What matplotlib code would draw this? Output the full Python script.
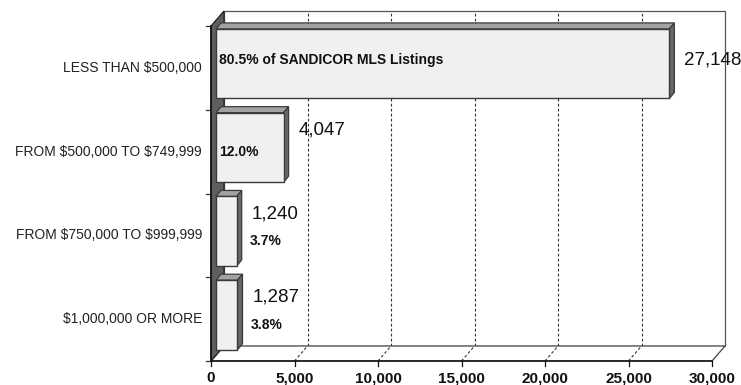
import matplotlib
matplotlib.use("Agg")
import matplotlib.pyplot as plt
from matplotlib.patches import Polygon
from matplotlib.transforms import offset_copy

# ---- data ----
categories = ["LESS THAN $500,000", "FROM $500,000 TO $749,999",
              "FROM $750,000 TO $999,999", "$1,000,000 OR MORE"]
counts = [27148, 4047, 1240, 1287]
shares = ["80.5%", "12.0%", "3.7%", "3.8%"]
first_suffix = " of SANDICOR MLS Listings"
xticks = [0, 5000, 10000, 15000, 20000, 25000, 30000]
xticklabels = ["0", "5,000", "10,000", "15,000", "20,000", "25,000", "30,000"]
XMAX = 30000

FONT = "Liberation Sans"
W, H = 741, 385
fig = plt.figure(figsize=(W / 100, H / 100), dpi=100)
L, R, T, B = 211, 712, 26, 361
ax = fig.add_axes([L / W, (H - B) / H, (R - L) / W, (B - T) / H])
ax.set_xlim(0, XMAX)
n = len(categories)
ax.set_ylim(0, n)
ax.axis("off")

PX = XMAX / (R - L)      # data units per pixel (x)
PY = n / (B - T)         # data units per pixel (y)


def P(x, y, dx=0, dy=0):
    return (x + dx * PX, y + dy * PY)


WDX, WDY = 13, 15        # wall depth in pixels
EDGE = "#3a3a3a"

def poly(pts, fc, ec, lw=0.9, z=1):
    ax.add_patch(Polygon(pts, closed=True, facecolor=fc, edgecolor=ec,
                         linewidth=lw, zorder=z, clip_on=False,
                         joinstyle="miter"))

def off(dx, dy):
    return offset_copy(ax.transData, fig=fig, x=dx, y=dy, units="dots")

# back wall
poly([P(0, 0, WDX, WDY), P(XMAX, 0, WDX, WDY), P(XMAX, n, WDX, WDY),
      P(0, n, WDX, WDY)], "white", "#555555", 0.9, 1)
# floor
poly([P(0, 0), P(XMAX, 0), P(XMAX, 0, WDX, WDY), P(0, 0, WDX, WDY)],
     "white", "#444444", 0.9, 1.5)
ax.plot([0, XMAX], [0, 0], color="#111111", lw=1.1, zorder=2, clip_on=False)
# left wall
poly([P(0, 0), P(0, n), P(0, n, WDX, WDY), P(0, 0, WDX, WDY)],
     "#5e5e5e", "#222222", 0.9, 2)
ax.plot([0, 0], [0, n], color="#111111", lw=1.2, zorder=2.1, clip_on=False)

# gridlines on back wall and floor
for t in xticks[1:-1]:
    x0, y0 = P(t, 0, WDX, WDY)
    x1, y1 = P(t, n, WDX, WDY)
    ax.plot([x0, x1], [y0, y1], color="#333333", lw=0.8,
            linestyle=(0, (2.5, 2)), zorder=1.2, clip_on=False)
    fx, fy = P(t, 0)
    ax.plot([fx, x0], [fy, y0], color="#333333", lw=0.8,
            linestyle=(0, (2.5, 2)), zorder=1.6, clip_on=False)

# x ticks + labels
for t, lab in zip(xticks, xticklabels):
    a = P(t, 0)
    b = P(t, 0, 0, -5)
    ax.plot([a[0], b[0]], [a[1], b[1]], color="#111111", lw=0.9,
            zorder=2, clip_on=False)
    ax.text(t, 0, lab, ha="center", va="center", fontsize=11,
            fontweight="bold", family=FONT, color="#111111",
            transform=off(0, -17.5), parse_math=False)

# y ticks
for k in range(n + 1):
    a = P(0, k)
    b = P(0, k, -5, 0)
    ax.plot([a[0], b[0]], [a[1], b[1]], color="#333333", lw=0.9,
            zorder=2, clip_on=False)

# bars
BDX, BDY = 5, 6
for idx, (cat, v, s) in enumerate(zip(categories, counts, shares)):
    band = n - 1 - idx
    y0, y1 = band + 0.135, band + 0.965
    x0 = P(0, 0, BDX)[0]
    x1 = P(v, 0, BDX)[0]
    # top face
    poly([(x0, y1), (x1, y1), P(x1, y1, BDX, BDY), P(x0, y1, BDX, BDY)],
         "#a2a2a2", EDGE, 0.9, 3)
    # side face
    poly([(x1, y0), (x1, y1), P(x1, y1, BDX, BDY), P(x1, y0, BDX, BDY)],
         "#686868", EDGE, 0.9, 3)
    # front face
    poly([(x0, y0), (x1, y0), (x1, y1), (x0, y1)], "#f0f0f0", EDGE, 1.0, 3.2)

    # category label
    ax.text(0, band + 0.5, cat, ha="right", va="center", fontsize=10,
            family=FONT, color="#222222", transform=off(-9, 0),
            parse_math=False)
    # value label
    vy = band + (0.595 if idx == 0 else 0.76)
    ax.text(v, vy, f"{v:,}", ha="left", va="center", fontsize=13.5,
            family=FONT, color="#111111", zorder=5, transform=off(20, 0),
            parse_math=False)
    # share label
    if v > 3000:
        txt = s + (first_suffix if idx == 0 else "")
        py = band + (0.59 if idx == 0 else 0.495)
        ax.text(0, py, txt, ha="left", va="center", fontsize=10,
                fontweight="bold", family=FONT, color="#111111", zorder=5,
                transform=off(8, 0), parse_math=False)
    else:
        ax.text(v, band + 0.43, s, ha="left", va="center", fontsize=10,
                fontweight="bold", family=FONT, color="#111111", zorder=5,
                transform=off(18, 0), parse_math=False)

fig.savefig("out.png", dpi=100, facecolor="white")
